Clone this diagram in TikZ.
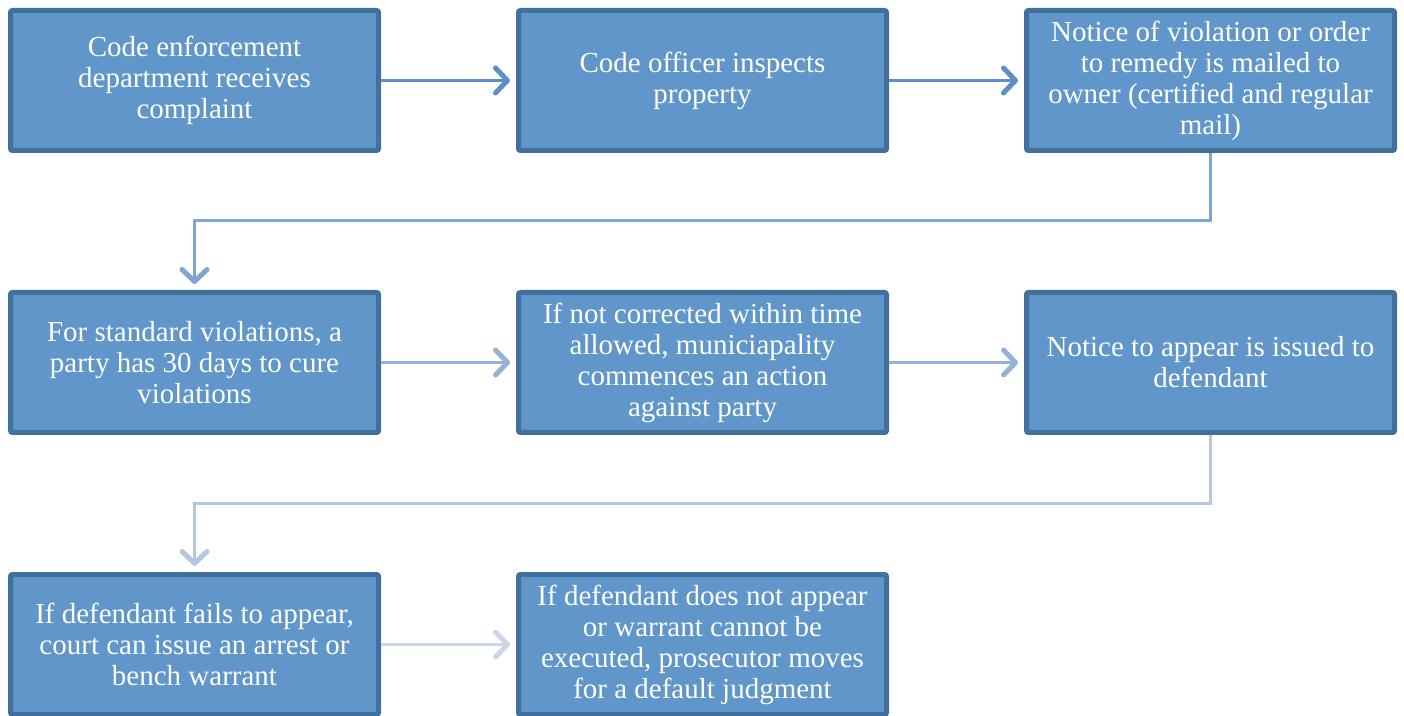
\documentclass[tikz,border=0pt]{standalone}
\usepackage{fontspec}
\setmainfont{Liberation Serif}
\usetikzlibrary{arrows.meta}
\definecolor{boxfill}{HTML}{6096CA}
\definecolor{boxline}{HTML}{41709F}
\definecolor{arA}{HTML}{5F8FC5}
\definecolor{arB}{HTML}{7FA5D2}
\definecolor{arC}{HTML}{94B2D8}
\definecolor{arD}{HTML}{B3C6E2}
\definecolor{arE}{HTML}{C9D6E8}
\begin{document}
\begin{tikzpicture}[x=1pt,y=1pt,
  stepbox/.style={draw=boxline, fill=boxfill, line width=5pt, rounded corners=2pt,
    minimum width=368pt, minimum height=140pt, inner sep=0pt, text=white, align=center,
    font=\fontsize{29}{31}\selectfont},
  conn/.style={line width=3pt, -{Straight Barb[length=12pt,width=25pt,line width=5pt,round]}, shorten >=6pt}
]
\useasboundingbox (0,0) rectangle (1404,715);
\node[stepbox] (n1) at (194.5,634.5) {Code enforcement\\department receives\\complaint};
\node[stepbox] (n2) at (702.5,634.5) {Code officer inspects\\property};
\node[stepbox] (n3) at (1210.5,634.5) {Notice of violation or order\\to remedy is mailed to\\owner (certified and regular\\mail)};
\node[stepbox] (n4) at (194.5,352.5) {For standard violations, a\\party has 30 days to cure\\violations};
\node[stepbox] (n5) at (702.5,352.5) {If not corrected within time\\allowed, municiapality\\commences an action\\against party};
\node[stepbox] (n6) at (1210.5,352.5) {Notice to appear is issued to\\defendant};
\node[stepbox] (n7) at (194.5,70.5) {If defendant fails to appear,\\court can issue an arrest or\\bench warrant};
\node[stepbox] (n8) at (702.5,70.5) {If defendant does not appear\\or warrant cannot be\\executed, prosecutor moves\\for a default judgment};
\coordinate (k1) at (1210.5,494);
\coordinate (k2) at (1210.5,212);
\draw[conn, draw=arA] (n1) -- (n2);
\draw[conn, draw=arA] (n2) -- (n3);
\draw[conn, draw=arB] (n3.south) -- (k1) -| (n4.north);
\draw[conn, draw=arC] (n4) -- (n5);
\draw[conn, draw=arC] (n5) -- (n6);
\draw[conn, draw=arD] (n6.south) -- (k2) -| (n7.north);
\draw[conn, draw=arE] (n7) -- (n8);
\end{tikzpicture}
\end{document}
